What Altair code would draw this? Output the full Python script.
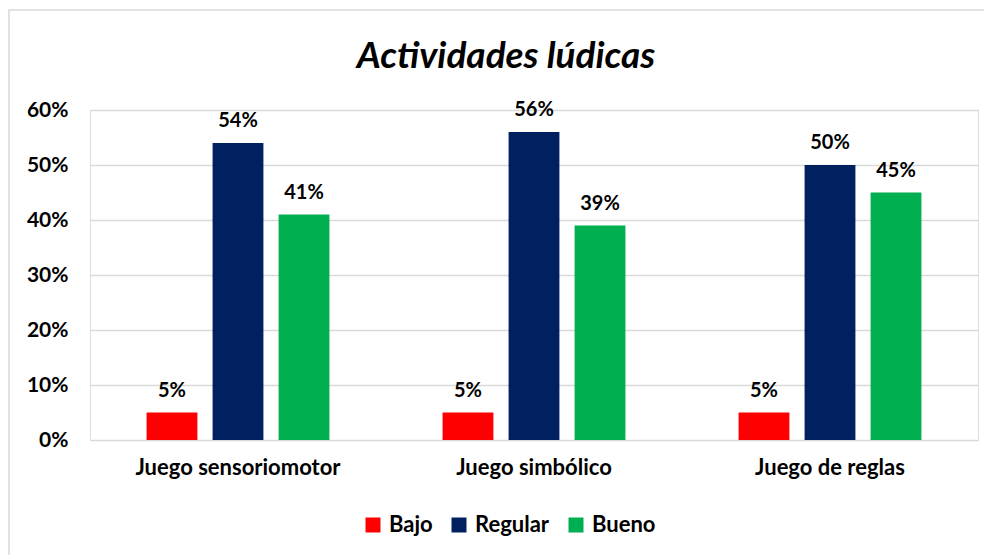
import altair as alt
import pandas as pd

categories = ["Juego sensoriomotor", "Juego simbólico", "Juego de reglas"]
levels = ["Bajo", "Regular", "Bueno"]
bajo = [0.05, 0.05, 0.05]
regular = [0.54, 0.56, 0.50]
bueno = [0.41, 0.39, 0.45]
colors = ["#FF0000", "#002060", "#00B050"]

rows = []
for i, c in enumerate(categories):
    for lv, vals in zip(levels, [bajo, regular, bueno]):
        rows.append({"cat": c, "nivel": lv, "valor": vals[i]})
df = pd.DataFrame(rows)

FONT = "Lato"
FS = 20
FS_TXT = 22

base = alt.Chart(df).encode(
    x=alt.X("cat:N", sort=categories, title=None,
            scale=alt.Scale(paddingInner=0, paddingOuter=0),
            axis=alt.Axis(labelAngle=0, labelFontSize=FS_TXT, labelFontWeight="bold",
                          labelColor="#000000", labelPadding=17, ticks=False, domain=False,
                          labelFont=FONT, labelLimit=0)),
    xOffset=alt.XOffset("nivel:N", sort=levels,
                        scale=alt.Scale(paddingInner=0.23, paddingOuter=0.857)),
)

bars = base.mark_bar().encode(
    y=alt.Y("valor:Q", title=None,
            scale=alt.Scale(domain=[0, 0.6]),
            axis=alt.Axis(format=".0%", values=[0, 0.1, 0.2, 0.3, 0.4, 0.5, 0.6],
                          labelFontSize=21, labelFontWeight="bold", labelColor="#000000",
                          labelPadding=22, ticks=False, domain=False, labelFont=FONT,
                          gridColor="#D9D9D9", gridWidth=1.5)),
    color=alt.Color("nivel:N", sort=levels,
                    scale=alt.Scale(domain=levels, range=colors),
                    legend=alt.Legend(title=None, orient="none", direction="horizontal",
                                      legendX=272, legendY=404,
                                      symbolType="square", symbolSize=225,
                                      symbolStrokeWidth=0, labelFontSize=FS_TXT,
                                      labelFontWeight="bold", labelFont=FONT,
                                      labelColor="#000000", columnPadding=15,
                                      labelOffset=5)),
)

labels = base.mark_text(dy=-12, baseline="bottom", fontSize=FS, fontWeight="bold",
                        font=FONT, color="#000000").encode(
    y=alt.Y("valor:Q"),
    text=alt.Text("valor:Q", format=".0%"),
)

frame = alt.Chart(pd.DataFrame({"a": [0]})).mark_rect(
    fill=None, stroke="#D9D9D9", strokeWidth=1.5
).encode(
    x=alt.value(-81), x2=alt.value(960), y=alt.value(-100), y2=alt.value(500)
)

chart = alt.layer(frame, bars, labels).properties(
    width=888, height=330,
    title=alt.TitleParams("Actividades lúdicas", fontSize=37, fontWeight="bold",
                          fontStyle="italic", font=FONT, color="#000000",
                          anchor="middle", dx=-28, dy=67, offset=0),
    autosize=alt.AutoSizeParams(type="none"),
    padding={"left": 82, "top": 102, "right": 6, "bottom": 115},
).configure_view(stroke=None).configure(background="#FFFFFF")

chart.save("out.html", embed_options={"renderer": "svg", "actions": False})
